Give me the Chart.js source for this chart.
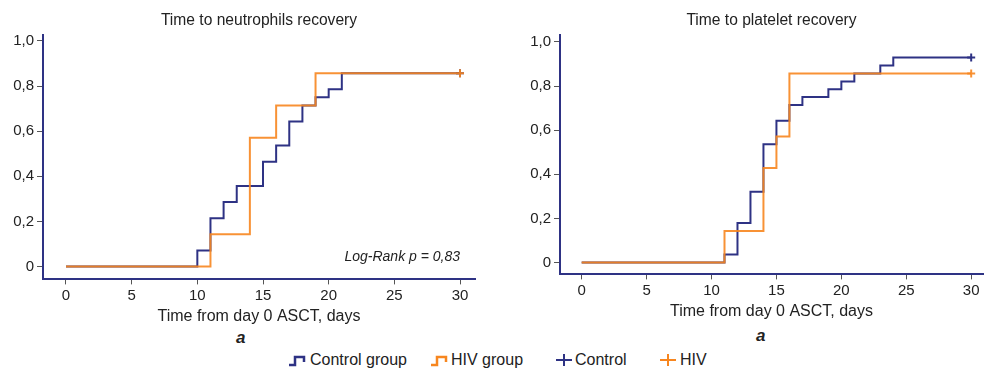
<!DOCTYPE html>
<html>
<head>
<meta charset="utf-8">
<script src="https://cdn.jsdelivr.net/npm/chart.js@4.4.1/dist/chart.umd.min.js"></script>
<style>
body { margin:0; background:#fff; width:989px; height:370px; position:relative; overflow:hidden; font-family:"Liberation Sans", Arial, sans-serif; color:#222; }
#box1 { position:absolute; left:0; top:0; width:490px; height:326px; }
#box2 { position:absolute; left:517px; top:0; width:472px; height:321px; }
.panel { position:absolute; font-weight:bold; font-style:italic; font-size:17px; }
.leg { position:absolute; top:351px; font-size:16px; line-height:18px; white-space:nowrap; }
.leg svg { position:absolute; top:2px; }
</style>
</head>
<body>
<div id="box1"><canvas id="chart1"></canvas></div>
<div id="box2"><canvas id="chart2"></canvas></div>
<div class="panel" style="left:236px; top:328px;">a</div>
<div class="panel" style="left:756px; top:326px;">a</div>

<div class="leg" style="left:288px;"><svg width="18" height="14"><path d="M1,12 H7 V4 H16 V9" fill="none" stroke="#2e3284" stroke-width="2.5"/></svg><span style="margin-left:22px">Control group</span></div>
<div class="leg" style="left:430px;"><svg width="18" height="14"><path d="M1,12 H7 V4 H16 V9" fill="none" stroke="#f7861f" stroke-width="2.5"/></svg><span style="margin-left:21px">HIV group</span></div>
<div class="leg" style="left:555px;"><svg width="18" height="14"><path d="M1,7 H17 M9,1 V13" fill="none" stroke="#2e3284" stroke-width="2"/></svg><span style="margin-left:20px">Control</span></div>
<div class="leg" style="left:659px;"><svg width="18" height="14"><path d="M1,7 H17 M9,1 V13" fill="none" stroke="#f7861f" stroke-width="2"/></svg><span style="margin-left:21px">HIV</span></div>

<script>
// neutrophils recovery (cumulative share), days from ASCT
var neutroControlDays = [0, 10, 11, 12, 13, 15, 16, 17, 18, 19, 20, 21, 30];
var neutroControlVals = [0, 0.071, 0.214, 0.286, 0.357, 0.464, 0.536, 0.643, 0.714, 0.75, 0.786, 0.857, 0.857];
var neutroHivDays = [0, 11, 14, 16, 19, 30];
var neutroHivVals = [0, 0.143, 0.571, 0.714, 0.857, 0.857];

// platelet recovery
var pltControlDays = [0, 11, 12, 13, 14, 15, 16, 17, 19, 20, 21, 23, 24, 30];
var pltControlVals = [0, 0.036, 0.179, 0.321, 0.536, 0.643, 0.714, 0.75, 0.786, 0.821, 0.857, 0.893, 0.929, 0.929];
var pltHivDays = [0, 11, 14, 15, 16, 30];
var pltHivVals = [0, 0.143, 0.429, 0.571, 0.857, 0.857];

// censored at end of follow-up
var censorDay = 30;

var xTicks = [0, 5, 10, 15, 20, 25, 30];
var yTicks = [0, 0.2, 0.4, 0.6, 0.8, 1.0];

var navy = '#2e3284';
var orange = 'rgba(247,134,31,0.9)';
var textColor = '#222';
var fam = '"Liberation Sans", Arial, sans-serif';

function pts(days, vals) {
    return days.map(function (d, i) { return {x: d, y: vals[i]}; });
}

function lastVal(vals) {
    return vals[vals.length - 1];
}

var logRankPlugin = {
    id: 'logRank',
    afterDatasetsDraw: function (chart) {
        var ctx = chart.ctx;
        ctx.save();
        ctx.font = 'italic 14px ' + fam;
        ctx.fillStyle = textColor;
        ctx.textAlign = 'right';
        ctx.textBaseline = 'middle';
        ctx.fillText('Log-Rank p = 0,83', chart.scales.x.getPixelForValue(30), chart.scales.y.getPixelForValue(0) - 9);
        ctx.restore();
    }
};

function makeChart(id, title, ctrl, hiv, xr, yr, plugins) {
    return new Chart(document.getElementById(id), {
        type: 'line',
        data: {
            datasets: [
                {label: 'Control group', data: ctrl, stepped: true, borderColor: navy, borderWidth: 2, pointRadius: 0, order: 4},
                {label: 'HIV group', data: hiv, stepped: true, borderColor: orange, borderWidth: 2, pointRadius: 0, order: 3},
                {label: 'Control', data: [{x: censorDay, y: lastVal(ctrl.map(function (p) { return p.y; }))}], showLine: false,
                    pointStyle: 'cross', pointRadius: 4, pointBorderWidth: 2, borderColor: navy, order: 2},
                {label: 'HIV', data: [{x: censorDay, y: lastVal(hiv.map(function (p) { return p.y; }))}], showLine: false,
                    pointStyle: 'cross', pointRadius: 4, pointBorderWidth: 2, borderColor: orange, order: 1}
            ]
        },
        options: {
            responsive: true,
            maintainAspectRatio: false,
            animation: false,
            layout: {padding: {left: 0, right: plugins.length ? 15 : 0, top: 0, bottom: 0}},
            plugins: {
                legend: {display: false},
                tooltip: {enabled: false},
                title: {
                    display: true,
                    text: title,
                    fullSize: false,
                    color: textColor,
                    font: {family: fam, size: 15.6, weight: 'normal'},
                    padding: {top: 11.1, bottom: 5.2}
                }
            },
            scales: {
                x: {
                    type: 'linear',
                    min: xr[0],
                    max: xr[1],
                    afterBuildTicks: function (s) { s.ticks = xTicks.map(function (v) { return {value: v}; }); },
                    grid: {drawOnChartArea: false, drawTicks: true, tickLength: 5, color: '#555'},
                    border: {display: true, color: navy, width: 2},
                    ticks: {color: textColor, padding: 2, font: {family: fam, size: 15}},
                    title: {
                        display: true,
                        text: 'Time from day 0 ASCT, days',
                        color: textColor,
                        padding: {top: 0.4, bottom: 0},
                        font: {family: fam, size: 16}
                    }
                },
                y: {
                    min: yr[0],
                    max: yr[1],
                    afterBuildTicks: function (s) { s.ticks = yTicks.map(function (v) { return {value: v}; }); },
                    afterFit: function (s) { s.width = 43; },
                    grid: {drawOnChartArea: false, drawTicks: true, tickLength: 6, color: '#555'},
                    border: {display: true, color: navy, width: 2},
                    ticks: {
                        color: textColor,
                        padding: 3,
                        font: {family: fam, size: 15},
                        callback: function (v) { return v === 0 ? '0' : v.toFixed(1).replace('.', ','); }
                    }
                }
            }
        },
        plugins: plugins
    });
}

makeChart('chart1', 'Time to neutrophils recovery',
    pts(neutroControlDays, neutroControlVals), pts(neutroHivDays, neutroHivVals),
    [-1.75, 31.14], [-0.057, 1.026], [logRankPlugin]);

makeChart('chart2', 'Time to platelet recovery',
    pts(pltControlDays, pltControlVals), pts(pltHivDays, pltHivVals),
    [-1.67, 30.91], [-0.054, 1.0315], []);
</script>
</body>
</html>
